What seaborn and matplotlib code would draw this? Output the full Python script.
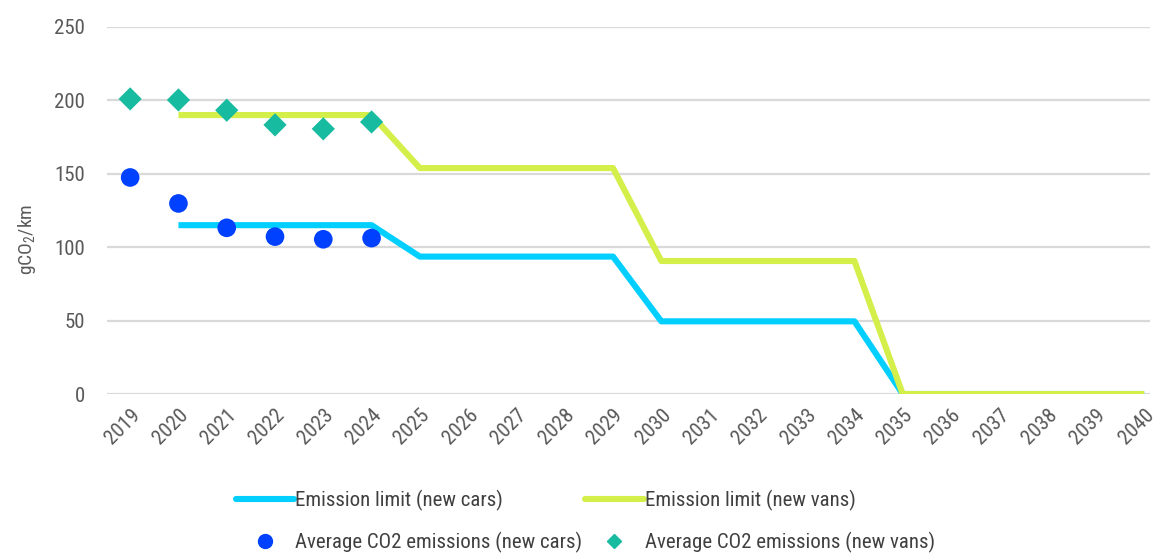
import matplotlib
matplotlib.use("Agg")
import matplotlib.pyplot as plt
from matplotlib import font_manager as fm
from matplotlib.lines import Line2D
import seaborn as sns
import pandas as pd

years = list(range(2019, 2041))
limit_years = list(range(2020, 2041))
limit_cars = [115, 115, 115, 115, 115, 93.6, 93.6, 93.6, 93.6, 93.6,
              49.5, 49.5, 49.5, 49.5, 49.5, 0, 0, 0, 0, 0, 0]
limit_vans = [190, 190, 190, 190, 190, 153.9, 153.9, 153.9, 153.9, 153.9,
              90.6, 90.6, 90.6, 90.6, 90.6, 0, 0, 0, 0, 0, 0]
avg_years = [2019, 2020, 2021, 2022, 2023, 2024]
avg_cars = [147.5, 129.8, 113.2, 107.2, 105.4, 106.2]
avg_vans = [201.0, 200.3, 193.3, 183.3, 180.6, 185.3]
y_ticks = [0, 50, 100, 150, 200, 250]

sns.set_theme(style="white")
avail = {f.name for f in fm.fontManager.ttflist}
fam = "DejaVu Sans"
for c in ["Liberation Sans Narrow", "Roboto Condensed", "DejaVu Sans Condensed", "Open Sans Condensed"]:
    if c in avail:
        fam = c
        break
plt.rcParams["font.family"] = [fam, "DejaVu Sans"]
plt.rcParams["mathtext.default"] = "regular"

fig = plt.figure(figsize=(11.54, 5.54), dpi=100)
ax = fig.add_axes([0.0927, 0.2888, 0.9038, 0.6625])

c_cars_line = "#00CFFF"
c_vans_line = "#D4EE4A"
c_cars_pt = "#0041FF"
c_vans_pt = "#17BBA0"

df_lim = pd.DataFrame({"year": limit_years, "cars": limit_cars, "vans": limit_vans})
df_avg = pd.DataFrame({"year": avg_years, "cars": avg_cars, "vans": avg_vans})

sns.lineplot(data=df_lim, x="year", y="cars", ax=ax, color=c_cars_line, lw=4.4,
             solid_capstyle="butt", zorder=3)
sns.lineplot(data=df_lim, x="year", y="vans", ax=ax, color=c_vans_line, lw=4.4,
             solid_capstyle="butt", zorder=3)
sns.scatterplot(data=df_avg, x="year", y="cars", ax=ax, color=c_cars_pt, s=180,
                marker="o", edgecolor="none", zorder=4)
sns.scatterplot(data=df_avg, x="year", y="vans", ax=ax, color=c_vans_pt, s=140,
                marker="D", edgecolor="none", zorder=4)

ax.set_xlim(2018.52, 2040.12)
ax.set_ylim(0, 250)
ax.set_yticks(y_ticks)
ax.set_yticklabels([str(v) for v in y_ticks])
ax.set_xticks(years)
ax.set_xticklabels([str(y) for y in years], rotation=45, ha="right",
                   rotation_mode="anchor")
ax.tick_params(axis="both", length=0, labelsize=15, colors="#595959")
ax.tick_params(axis="x", pad=8)
ax.tick_params(axis="y", pad=16)
ax.grid(axis="y", color="#D9D9D9", lw=1.6, zorder=0)
ax.grid(axis="x", visible=False)
for s in ax.spines.values():
    s.set_visible(False)
ax.set_xlabel("")
ax.set_ylabel(r"gCO$_2$/km", fontsize=14, color="#595959")
ax.yaxis.set_label_coords(-0.066, 0.42)

handles = [
    Line2D([], [], color=c_cars_line, lw=4.4),
    Line2D([], [], color=c_cars_pt, marker="o", ls="none", markersize=10),
    Line2D([], [], color=c_vans_line, lw=4.4),
    Line2D([], [], color=c_vans_pt, marker="D", ls="none", markersize=7),
]
labels = ["Emission limit (new cars)", "Average CO2 emissions (new cars)",
          "Emission limit (new vans)", "Average CO2 emissions (new vans)"]
leg = fig.legend(handles, labels, ncol=2, loc="upper left",
                 bbox_to_anchor=(0.197, 0.13), frameon=False, fontsize=15,
                 handlelength=2.8, handletextpad=0.05, columnspacing=0.15,
                 labelspacing=1.0, labelcolor="#404040", borderaxespad=0)

fig.savefig("out.png", dpi=100)
